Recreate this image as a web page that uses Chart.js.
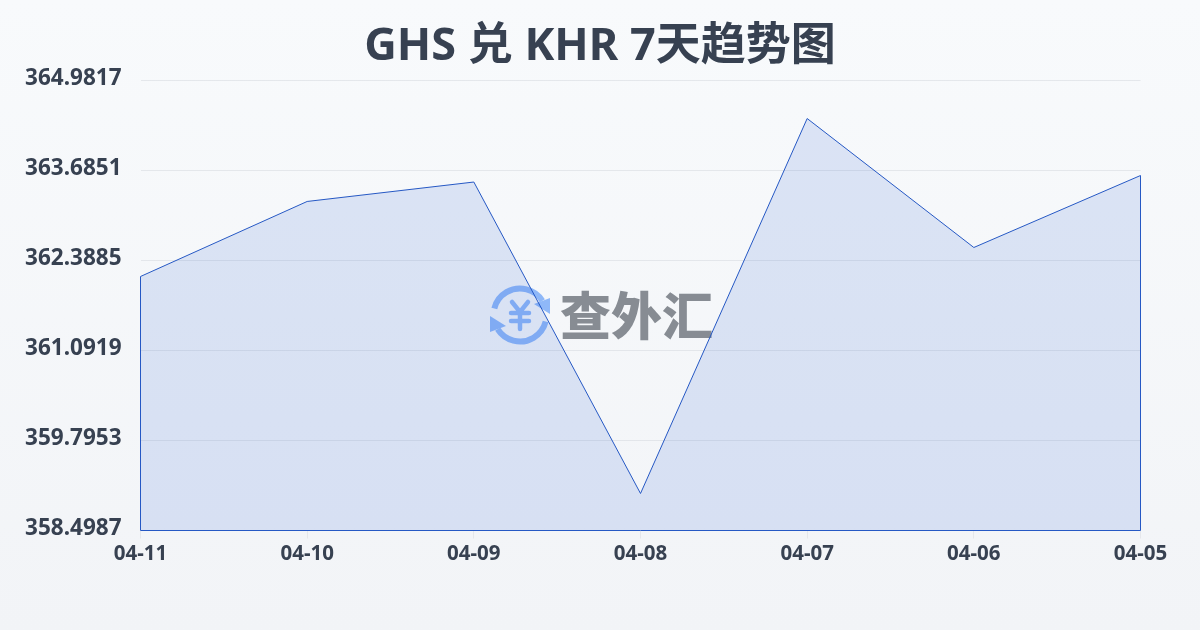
<!DOCTYPE html>
<html lang="zh"><head><meta charset="utf-8">
<style>
html,body{margin:0;padding:0;width:1200px;height:630px;overflow:hidden;background:linear-gradient(180deg,#f8fafc,#f2f4f7)}
canvas{display:block}
</style>
<script src="https://cdn.jsdelivr.net/npm/chart.js@4"></script>
</head><body>
<canvas id="c" width="1200" height="630"></canvas>
<script>
const titleText = 'GHS 兑 KHR 7天趋势图';
const categories = ['04-11','04-10','04-09','04-08','04-07','04-06','04-05'];
const rates = [362.158,363.239,363.519,359.032,364.434,362.576,363.613];
const tickValues = [358.4987,359.7953,361.0919,362.3885,363.6851,364.9817];
const FONT = '"Noto Sans","Noto Sans CJK SC",sans-serif';
const CJK = '"Noto Sans CJK SC",sans-serif';
const LINE = '#2558c4';

const watermark = {
  id:'watermark',
  beforeDatasetsDraw(chart){
    const g = chart.ctx; g.save();
    const cx=520, cy=315, r=26.5;
    g.strokeStyle='#8fb8f8'; g.fillStyle='#8fb8f8'; g.lineWidth=6; g.lineCap='butt';
    g.beginPath(); g.arc(cx,cy,r,Math.PI*1.08,Math.PI*1.82); g.stroke();
    g.beginPath(); g.arc(cx,cy,r,Math.PI*0.08,Math.PI*0.82); g.stroke();
    g.beginPath(); g.moveTo(550,298); g.lineTo(550,314); g.lineTo(534,304); g.closePath(); g.fill();
    g.beginPath(); g.moveTo(490,332); g.lineTo(490,316); g.lineTo(506,326); g.closePath(); g.fill();
    g.lineWidth=4.5; g.lineCap='round';
    g.beginPath(); g.moveTo(512,302); g.lineTo(520,312); g.lineTo(528,302);
    g.moveTo(520,312); g.lineTo(520,329);
    g.moveTo(511,313); g.lineTo(529,313); g.moveTo(511,321); g.lineTo(529,321); g.stroke();
    g.fillStyle='#878c93'; g.font='900 51px '+CJK; g.textAlign='left'; g.textBaseline='middle';
    g.fillText('查外汇',560,316);
    g.restore();
  }
};
const closeArea = {
  id:'closeArea',
  afterDatasetsDraw(chart){
    const g=chart.ctx, x=chart.scales.x, y=chart.scales.y;
    const x0=x.getPixelForValue(0), x1=x.getPixelForValue(categories.length-1), b=y.getPixelForValue(tickValues[0]);
    g.save(); g.strokeStyle=LINE; g.lineWidth=1;
    g.beginPath();
    g.moveTo(x0,y.getPixelForValue(rates[0])); g.lineTo(x0,b); g.lineTo(x1,b);
    g.lineTo(x1,y.getPixelForValue(rates[rates.length-1])); g.stroke();
    g.restore();
  }
};
Chart.defaults.font.family = FONT;
new Chart(document.getElementById('c'),{
  type:'line',
  data:{labels:categories,datasets:[{data:rates,borderColor:LINE,borderWidth:1,backgroundColor:'rgba(30,85,205,0.13)',fill:'start',tension:0,pointRadius:0}]},
  plugins:[watermark,closeArea],
  options:{
    responsive:false,animation:false,
    layout:{padding:0},
    plugins:{
      legend:{display:false},tooltip:{enabled:false},
      title:{display:true,text:titleText,color:'#374151',font:{size:45,weight:'bold',family:FONT,lineHeight:1.2},padding:{top:20,bottom:6.5},align:'center',fullSize:true}
    },
    scales:{
      x:{
        type:'category',offset:false,
        grid:{display:true,drawOnChartArea:false,drawTicks:true,tickLength:8,color:'#e5e7eb'},
        border:{display:false},
        ticks:{color:'#374151',font:{size:20.5,weight:'bold'},maxRotation:0,autoSkip:false,padding:3},
        afterFit(s){s.height=99.5;}
      },
      y:{
        min:tickValues[0],max:tickValues[tickValues.length-1],
        afterBuildTicks(s){s.ticks=tickValues.map(v=>({value:v}));},
        grid:{color:'rgba(209,213,219,0.5)',drawTicks:false},
        border:{display:false},
        ticks:{color:'#374151',font:{size:22.5,weight:'bold'},padding:19,labelOffset:-1.5,callback:v=>Number(v).toFixed(4)},
        afterFit(s){s.width=140.5;}
      },
      rightGutter:{
        position:'right',display:true,
        grid:{display:false},border:{display:false},ticks:{display:false},
        afterFit(s){s.width=59.5;}
      }
    }
  }
});
</script>
</body></html>
